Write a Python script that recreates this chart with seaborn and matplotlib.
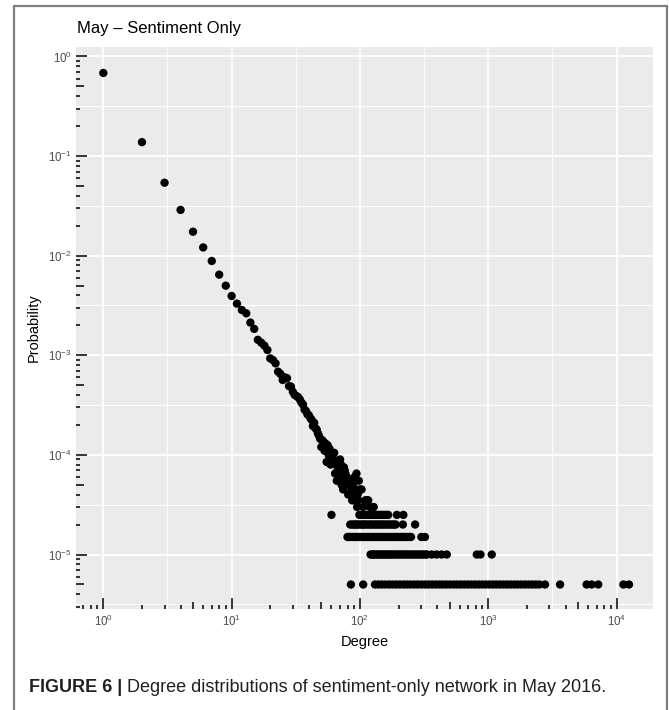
import matplotlib
matplotlib.use("Agg")
import matplotlib.pyplot as plt
from matplotlib.lines import Line2D
from matplotlib.ticker import FixedLocator, NullFormatter
import numpy as np
import pandas as pd
import seaborn as sns

# total number of nodes (1 node -> 5e-6)
N_NODES = 200000

# low degrees: one point per degree, node counts
HEAD_DEGREE = [1, 2, 3, 4, 5, 6, 7, 8, 9, 10, 11, 12, 13, 14, 15, 16, 17, 18, 19, 20,
               21, 22, 23, 24, 25, 26, 27, 28, 29, 30, 31]
HEAD_COUNT = [136600, 27600, 10800, 5760, 3480, 2420, 1770, 1290, 1000, 788, 660, 570,
              528, 426, 368, 286, 268, 250, 226, 186, 179, 166, 137, 130, 113, 120, 118,
              98, 97, 86, 80]

# noisy middle part of the tail
CLOUD_DEGREE = [32, 33, 34, 35, 36, 37, 38, 39, 40, 41, 42, 43, 44, 45, 46, 47, 48, 49,
                50, 51, 52, 53, 54, 55, 56, 57, 58, 59, 60, 61, 62, 63, 64, 65, 66, 67,
                68, 69, 70, 71, 72, 73, 74, 75, 76, 77, 78, 79, 81, 82, 84, 86, 87, 88,
                89, 90, 91, 93, 94, 95, 96, 97, 98, 100, 103, 106, 110, 113, 116, 120, 128]
CLOUD_COUNT = [78, 76, 72, 67, 64, 57, 55, 51, 50, 47, 45, 39, 42, 37, 36, 33, 31, 29,
               24, 28, 27, 22, 26, 17, 25, 20, 23, 16, 5, 19, 18, 21, 13, 16, 11, 14,
               15, 12, 18, 16, 10, 12, 9, 15, 14, 13, 11, 12, 8, 10, 11, 9, 7, 10,
               8, 7, 12, 9, 13, 6, 8, 7, 11, 9, 9, 6, 7, 7, 7, 6, 6]

# degrees sitting on the discrete low-count rows
ROW5_DEGREE = [99, 102, 105, 108, 112, 115, 119, 123, 127, 131, 135, 140, 145, 150, 155,
               160, 166, 194, 218]
ROW4_DEGREE = [84, 87, 90, 92, 95, 97, 101, 104, 107, 109, 113, 117, 121, 124, 129, 133,
               137, 141, 146, 151, 156, 161, 167, 173, 179, 185, 190, 216, 269]
ROW3_DEGREE = [80, 82, 85, 88, 91, 93, 96, 100, 103, 106, 110, 114, 118, 122, 126, 130,
               134, 138, 143, 148, 153, 158, 163, 169, 175, 181, 187, 193, 199, 206, 213,
               220, 227, 235, 243, 250, 301, 321]
ROW2_DEGREE = [121, 124, 128, 131, 135, 139, 143, 147, 151, 156, 160, 165, 170, 175, 181,
               187, 193, 199, 206, 213, 220, 227, 235, 243, 251, 260, 270, 280, 290, 300,
               311, 322, 333, 362, 395, 433, 475, 814, 870, 1065]
ROW1_DEGREE = [85, 106, 131, 139, 148, 158, 169, 180, 192, 205, 219, 233, 248, 265, 282,
               301, 321, 342, 365, 389, 415, 442, 471, 502, 536, 571, 609, 650, 693, 739,
               788, 840, 896, 955, 1019, 1086, 1158, 1235, 1317, 1404, 1497, 1597, 1703,
               1816, 1936, 2065, 2202, 2348, 2504, 2770, 3630, 5840, 6400, 7200, 11300, 12500]

X_DECADES = [0, 1, 2, 3, 4]
Y_DECADES = [0, -1, -2, -3, -4, -5]

TITLE = "May \u2013 Sentiment Only"
CAPTION_BOLD = "FIGURE 6 |"
CAPTION_REST = " Degree distributions of sentiment-only network in May 2016."

# --------------------------------------------------------------------------- #
degrees = list(HEAD_DEGREE) + list(CLOUD_DEGREE)
counts = list(HEAD_COUNT) + list(CLOUD_COUNT)
for c, row in ((5, ROW5_DEGREE), (4, ROW4_DEGREE), (3, ROW3_DEGREE),
               (2, ROW2_DEGREE), (1, ROW1_DEGREE)):
    degrees += row
    counts += [c] * len(row)
df = pd.DataFrame({"Degree": degrees, "Count": counts})
df["Probability"] = df["Count"] / N_NODES

sns.set_theme(style="darkgrid")
plt.rcParams["font.family"] = ["Liberation Sans", "DejaVu Sans"]
plt.rcParams["mathtext.default"] = "regular"

W, H = 669, 710
fig = plt.figure(figsize=(W / 100, H / 100), dpi=100)
fig.patch.set_facecolor("white")
L, R, T, B = 76, 653, 47, 609
ax = fig.add_axes([L / W, 1 - B / H, (R - L) / W, (B - T) / H])
ax.set_facecolor("#EBEBEB")

sns.scatterplot(data=df, x="Degree", y="Probability", color="black", s=36,
                edgecolor="none", linewidth=0, ax=ax, zorder=3)
ax.set_xscale("log")
ax.set_yscale("log")
ax.set_xlim(10 ** -0.213, 10 ** 4.284)
ax.set_ylim(10 ** -5.547, 10 ** 0.095)

# ggplot-like grid: majors at decades, minors at half decades
ax.xaxis.set_major_locator(FixedLocator([10.0 ** d for d in X_DECADES]))
ax.yaxis.set_major_locator(FixedLocator([10.0 ** d for d in Y_DECADES]))
ax.xaxis.set_minor_locator(FixedLocator([10.0 ** (d + 0.5) for d in range(-1, 5)]))
ax.yaxis.set_minor_locator(FixedLocator([10.0 ** (d + 0.5) for d in range(-6, 1)]))
ax.xaxis.set_minor_formatter(NullFormatter())
ax.yaxis.set_minor_formatter(NullFormatter())
ax.set_xticklabels([f"$10^{{{d}}}$" for d in X_DECADES])
ax.set_yticklabels([f"$10^{{{d}}}$" for d in Y_DECADES])
ax.grid(which="major", color="white", linewidth=1.3)
ax.grid(which="minor", color="white", linewidth=0.7)
ax.tick_params(which="both", length=0, labelsize=8.3, labelcolor="#4D4D4D")
ax.tick_params(axis="x", pad=3.5)
ax.tick_params(axis="y", pad=3)
for s in ax.spines.values():
    s.set_visible(False)
ax.set_xlabel("")
ax.set_ylabel("")

# annotation_logticks style marks on bottom and left, inside the panel
pw, ph = R - L, B - T
lens = {"long": 11, "mid": 7.5, "short": 4}
xlo, xhi = ax.get_xlim()
ylo, yhi = ax.get_ylim()
for d in range(-1, 5):
    for m in range(1, 10):
        v = m * 10.0 ** d
        kind = "long" if m == 1 else ("mid" if m == 5 else "short")
        if xlo <= v <= xhi:
            ax.plot([v, v], [0, lens[kind] / ph], color="black", lw=1.1,
                    transform=ax.get_xaxis_transform(), solid_capstyle="butt", zorder=4)
for d in range(-6, 1):
    for m in range(1, 10):
        v = m * 10.0 ** d
        kind = "long" if m == 1 else ("mid" if m == 5 else "short")
        if ylo <= v <= yhi:
            ax.plot([0, lens[kind] / pw], [v, v], color="black", lw=1.1,
                    transform=ax.get_yaxis_transform(), solid_capstyle="butt", zorder=4)

# texts
fig.text(77 / W, 1 - 29 / H, TITLE, fontsize=12, color="black", va="center", ha="left")
fig.text((L + R) / 2 / W, 1 - 642 / H, "Degree", fontsize=10.5, color="black",
         va="center", ha="center")
fig.text(34 / W, 1 - (T + B) / 2 / H, "Probability", fontsize=10.5, color="black",
         va="center", ha="center", rotation=90)
t1 = fig.text(29 / W, 1 - 687 / H, CAPTION_BOLD, fontsize=13, fontweight="bold",
              color="#231F20", va="center", ha="left")
ax.annotate(CAPTION_REST, xy=(1, 0), xycoords=t1, va="bottom", ha="left",
            fontsize=13, color="#231F20", annotation_clip=False)

# frame around the figure (cut at the bottom)
for xs, ys in (([14 / W, 14 / W], [0, 1 - 6 / H]),
               ([667 / W, 667 / W], [0, 1 - 6 / H]),
               ([14 / W, 667 / W], [1 - 6 / H, 1 - 6 / H])):
    fig.add_artist(Line2D(xs, ys, transform=fig.transFigure, color="#7F7F7F", lw=1.6))

fig.savefig("out.png", dpi=100)
